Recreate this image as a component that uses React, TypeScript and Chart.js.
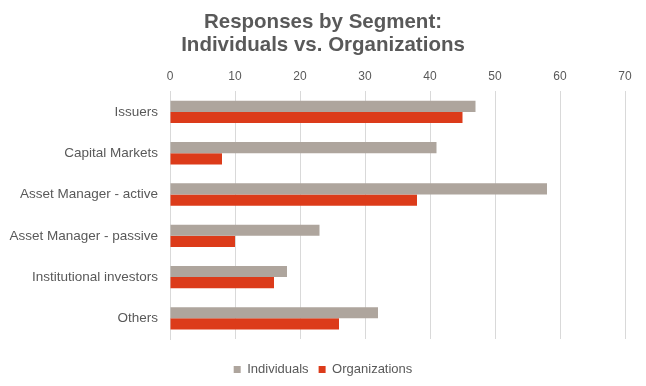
import React, { useEffect, useRef } from "react";
import { Chart, registerables } from "chart.js";

Chart.register(...registerables);

const categories = [
  "Issuers",
  "Capital Markets",
  "Asset Manager - active",
  "Asset Manager - passive",
  "Institutional investors",
  "Others",
];
const individuals = [47, 41, 58, 23, 18, 32];
const organizations = [45, 8, 38, 10, 16, 26];
const titleLines = ["Responses by Segment:", "Individuals vs. Organizations"];

const FONT = "Liberation Sans, Arial, sans-serif";

export default function App() {
  const ref = useRef<HTMLCanvasElement | null>(null);
  useEffect(() => {
    if (!ref.current) return;
    const chart = new Chart(ref.current, {
      type: "bar",
      data: {
        labels: categories,
        datasets: [
          {
            label: "Individuals",
            data: individuals,
            backgroundColor: "#AEA59D",
            barPercentage: 1,
            categoryPercentage: 0.54,
          },
          {
            label: "Organizations",
            data: organizations,
            backgroundColor: "#DC3B1A",
            barPercentage: 1,
            categoryPercentage: 0.54,
          },
        ],
      },
      options: {
        indexAxis: "y",
        animation: false,
        responsive: true,
        maintainAspectRatio: false,
        layout: { padding: { left: 0, right: 0, top: 11, bottom: 0 } },
        plugins: {
          title: {
            display: true,
            text: titleLines,
            color: "#595959",
            font: { family: FONT, size: 20.5, weight: "bold", lineHeight: 1.12 },
            padding: { top: 0, bottom: 6 },
          },
          legend: {
            position: "bottom",
            title: {
              display: true,
              text: " ",
              font: { size: 1, lineHeight: 1 },
              padding: { top: 13, bottom: 0 },
            },
            labels: {
              boxWidth: 7,
              boxHeight: 7,
              color: "#595959",
              font: { family: FONT, size: 13 },
              padding: 10,
            },
          },
          tooltip: { enabled: false },
        },
        scales: {
          x: {
            position: "top",
            min: 0,
            max: 70,
            ticks: {
              stepSize: 10,
              color: "#595959",
              font: { family: FONT, size: 12 },
              padding: 7,
            },
            grid: { color: "#D9D9D9", drawTicks: false },
            border: { display: false },
          },
          y: {
            afterFit: (scale: any) => {
              scale.width = 170;
            },
            ticks: {
              color: "#595959",
              font: { family: FONT, size: 13.5 },
              padding: 12,
            },
            grid: { display: false, drawTicks: false },
            border: { display: true, color: "#D9D9D9" },
          },
          y2: {
            type: "category",
            position: "right",
            display: true,
            ticks: { display: false },
            grid: { display: false, drawTicks: false },
            border: { display: false },
            afterFit: (scale: any) => {
              scale.width = 21;
            },
          },
        },
      },
    });
    return () => chart.destroy();
  }, []);
  return (
    <div style={{ position: "fixed", left: 0, top: 0, width: 646, height: 386, background: "#fff" }}>
      <canvas ref={ref} />
    </div>
  );
}
